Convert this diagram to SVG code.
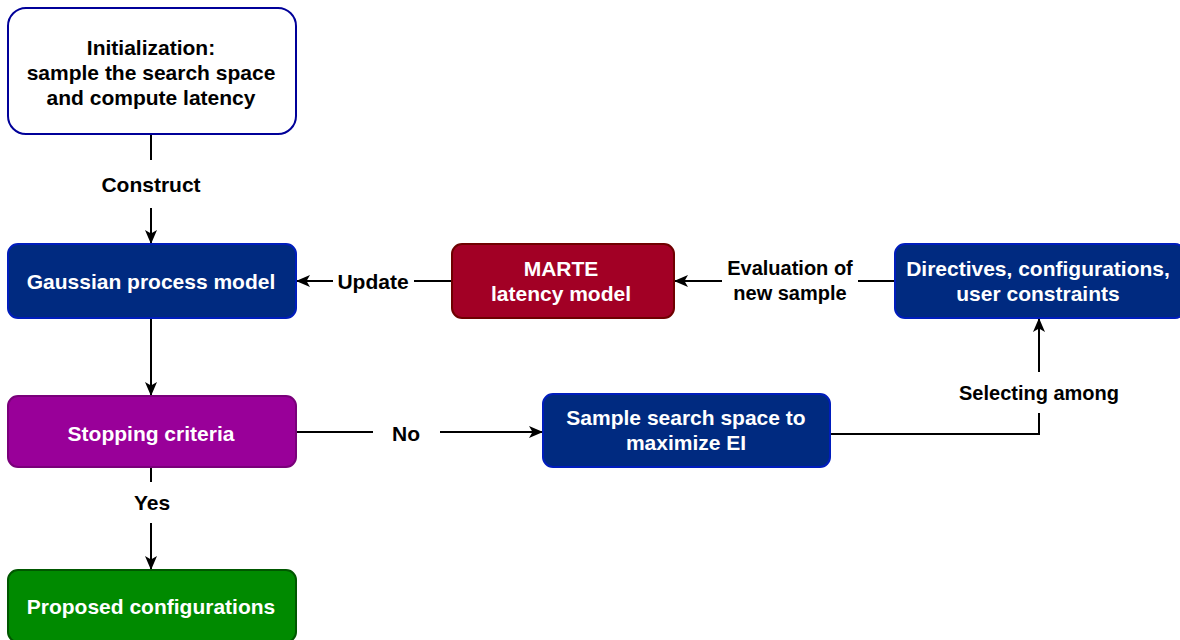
<svg xmlns="http://www.w3.org/2000/svg" width="1180" height="640" viewBox="0 0 1180 640">
  <style>
    .box { stroke-width: 2; }
    .blue { fill: #002A80; stroke: #001DBC; }
    .white { fill: #FFFFFF; stroke: #000099; }
    .red { fill: #A20025; stroke: #6F0000; }
    .purple { fill: #990099; stroke: #7A007A; }
    .green { fill: #008A00; stroke: #005700; }
    text { font-family: "Liberation Sans", Arial, sans-serif; font-weight: bold; font-size: 21px; text-anchor: middle; }
    .light { fill: #FFFFFF; }
    .dark { fill: #000000; }
    .small { font-size: 20px; }
    .wire { fill: none; stroke: #000000; stroke-width: 2; }
  </style>
  <defs>
    <marker id="arrow" viewBox="0 0 14 14" refX="13" refY="7" markerWidth="14" markerHeight="14" markerUnits="userSpaceOnUse" orient="auto">
      <path d="M0,1 L14,7 L0,13 L3.5,7 Z" fill="#000000"/>
    </marker>
  </defs>
  <rect width="1180" height="640" fill="#FFFFFF"/>

  <!-- connectors -->
  <g id="connectors">
    <path class="wire" d="M151,134 V160"/>
    <path class="wire" d="M151,208 V243" marker-end="url(#arrow)"/>
    <text class="dark" x="151" y="192">Construct</text>

    <path class="wire" d="M452,281 H414"/>
    <path class="wire" d="M333,281 H297" marker-end="url(#arrow)"/>
    <text class="dark" x="373" y="289">Update</text>

    <path class="wire" d="M895,281 H858"/>
    <path class="wire" d="M722,281 H675" marker-end="url(#arrow)"/>
    <text class="dark small" x="790" y="275">Evaluation of</text>
    <text class="dark small" x="790" y="300">new sample</text>

    <path class="wire" d="M151,318 V395" marker-end="url(#arrow)"/>

    <path class="wire" d="M296,432 H373"/>
    <path class="wire" d="M440,432 H542" marker-end="url(#arrow)"/>
    <text class="dark" x="406" y="441">No</text>

    <path class="wire" d="M830,434 H1039 V413"/>
    <path class="wire" d="M1039,372 V319" marker-end="url(#arrow)"/>
    <text class="dark small" x="1039" y="400">Selecting among</text>

    <path class="wire" d="M151,467 V482"/>
    <path class="wire" d="M151,523 V569" marker-end="url(#arrow)"/>
    <text class="dark" x="152" y="510">Yes</text>
  </g>

  <g id="init">
    <rect class="box white" x="8" y="8" width="288" height="126" rx="18"/>
    <text class="dark" x="151" y="55">Initialization:</text>
    <text class="dark" x="151" y="80">sample the search space</text>
    <text class="dark" x="151" y="105">and compute latency</text>
  </g>

  <g id="gaussian">
    <rect class="box blue" x="8" y="244" width="288" height="74" rx="10"/>
    <text class="light" x="151" y="289">Gaussian process model</text>
  </g>

  <g id="marte">
    <rect class="box red" x="452" y="244" width="222" height="74" rx="10"/>
    <text class="light" x="561" y="276">MARTE</text>
    <text class="light" x="561" y="301">latency model</text>
  </g>

  <g id="directives">
    <rect class="box blue" x="895" y="244" width="290" height="74" rx="10"/>
    <text class="light" x="1038" y="276">Directives, configurations,</text>
    <text class="light" x="1038" y="301">user constraints</text>
  </g>

  <g id="stopping">
    <rect class="box purple" x="8" y="396" width="288" height="71" rx="10"/>
    <text class="light" x="151" y="441">Stopping criteria</text>
  </g>

  <g id="sample">
    <rect class="box blue" x="543" y="394" width="287" height="73" rx="10"/>
    <text class="light" x="686" y="425">Sample search space to</text>
    <text class="light" x="686" y="450">maximize EI</text>
  </g>

  <g id="proposed">
    <rect class="box green" x="8" y="570" width="288" height="72" rx="10"/>
    <text class="light" x="151" y="614">Proposed configurations</text>
  </g>
</svg>
